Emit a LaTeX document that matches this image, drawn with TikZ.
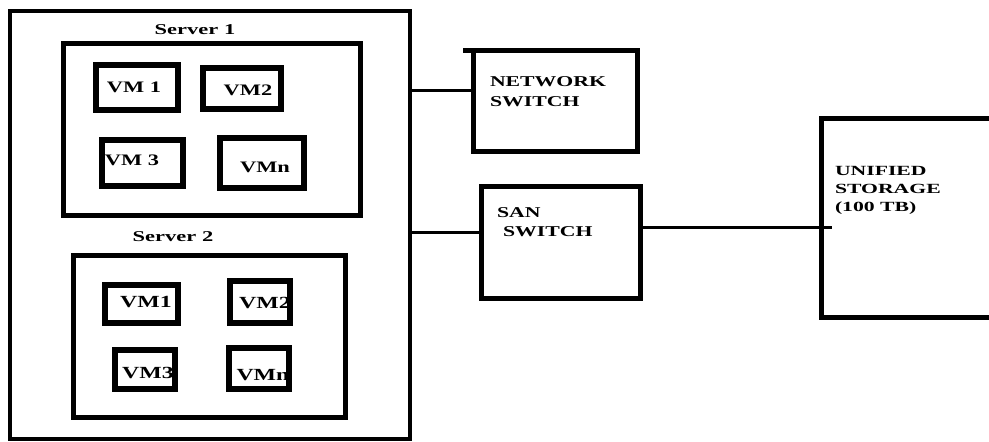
\documentclass[tikz,border=0pt]{standalone}
\usepackage{fontspec}
\usepackage{graphicx}
\setmainfont{Liberation Serif}
\newcommand\stx[2][1.45]{\scalebox{#1}[1]{#2}}
\begin{document}
\begin{tikzpicture}[x=1pt,y=-1pt,
  box/.style={draw, line width=#1, outer sep=0pt, inner sep=0pt},
  box/.default=5pt,
  vmbox/.style={box=5.5pt},
  txt/.style={inner sep=0pt, outer sep=0pt, font=\bfseries\fontsize{15}{18}\selectfont},
  vmt/.style={txt, font=\bfseries\fontsize{16}{18}\selectfont},
  vmtb/.style={txt, font=\bfseries\fontsize{17}{18}\selectfont},
  wire/.style={line width=3pt}]
\useasboundingbox (0,0) rectangle (989,442);
\clip (0,0) rectangle (989,442);
\fill[white] (0,0) rectangle (989,442);

% outer enclosure
\node[box=4.5pt, minimum width=400pt, minimum height=428pt] (outer) at (210,225) {};

% Server 1
\node[txt] (s1lab) at (195,30) {\stx[1.5]{Server 1}};
\node[box, minimum width=297pt, minimum height=172pt] (srv1) at (211.5,129) {};
\node[vmt] (t11) at (134,87) {\stx[1.4]{VM 1}};
\node[vmt] (t12) at (248,90) {\stx[1.4]{VM2}};
\node[vmt] (t13) at (132,160) {\stx[1.4]{VM 3}};
\node[vmt] (t14) at (265,167) {\stx[1.4]{VMn}};
\node[vmbox, minimum width=82pt, minimum height=45pt] (v11) at (137,87.5) {};
\node[vmbox, minimum width=78pt, minimum height=41pt] (v12) at (242,88.5) {};
\node[vmbox, minimum width=81pt, minimum height=46pt] (v13) at (142.5,163) {};
\node[vmbox, minimum width=84pt, minimum height=50pt] (v14) at (262,163) {};

% Server 2
\node[txt] (s2lab) at (173,237) {\stx[1.5]{Server 2}};
\node[box, minimum width=272pt, minimum height=162pt] (srv2) at (209,336) {};
\node[vmtb] (t21) at (146,302) {\stx[1.4]{VM1}};
\node[vmtb] (t22) at (265,303) {\stx[1.4]{VM2}};
\node[vmtb] (t23) at (148,373) {\stx[1.4]{VM3}};
\node[vmtb] (t24) at (263,375) {\stx[1.4]{VMn}};
\node[vmbox, minimum width=73pt, minimum height=38pt] (v21) at (141.5,304) {};
\node[vmbox, minimum width=60pt, minimum height=42pt] (v22) at (260,302) {};
\node[vmbox, minimum width=60pt, minimum height=39pt] (v23) at (145,369.5) {};
\node[vmbox, minimum width=60pt, minimum height=41pt] (v24) at (259,368.5) {};

% switches and storage
\node[box, minimum width=164pt, minimum height=101pt] (nsw) at (555,100.5) {};
\node[txt, anchor=west, align=left, font=\bfseries\fontsize{15}{20}\selectfont] (nswt) at (490,92) {\stx{NETWORK}\\\stx{SWITCH}};
\node[box, minimum width=159pt, minimum height=112pt] (san) at (560.5,242) {};
\node[txt, anchor=west, align=left, font=\bfseries\fontsize{15}{19}\selectfont] (sant) at (497,222.5) {\stx{SAN}\\\hspace*{6pt}\stx{SWITCH}};
\node[box, minimum width=189pt, minimum height=199.5pt] (sto) at (915.5,217.75) {};
\node[txt, anchor=west, align=left, font=\bfseries\fontsize{14}{18}\selectfont] (stot) at (835,190) {\stx[1.55]{UNIFIED}\\\stx[1.55]{STORAGE}\\\stx[1.55]{(100 TB)}};

% connectors
\coordinate (nline) at (0,90.5);
\coordinate (sline) at (0,232);
\coordinate (tline) at (0,227.5);
\draw[wire] (outer.east |- nline) -- (nsw.west |- nline);
\draw[wire] (outer.east |- sline) -- (san.west |- sline);
\draw[wire] (san.east |- tline) -- ([xshift=11pt]sto.west |- tline);
\draw[line width=5pt] (nsw.north west) -- ([xshift=-10pt]nsw.north west);
\end{tikzpicture}
\end{document}
